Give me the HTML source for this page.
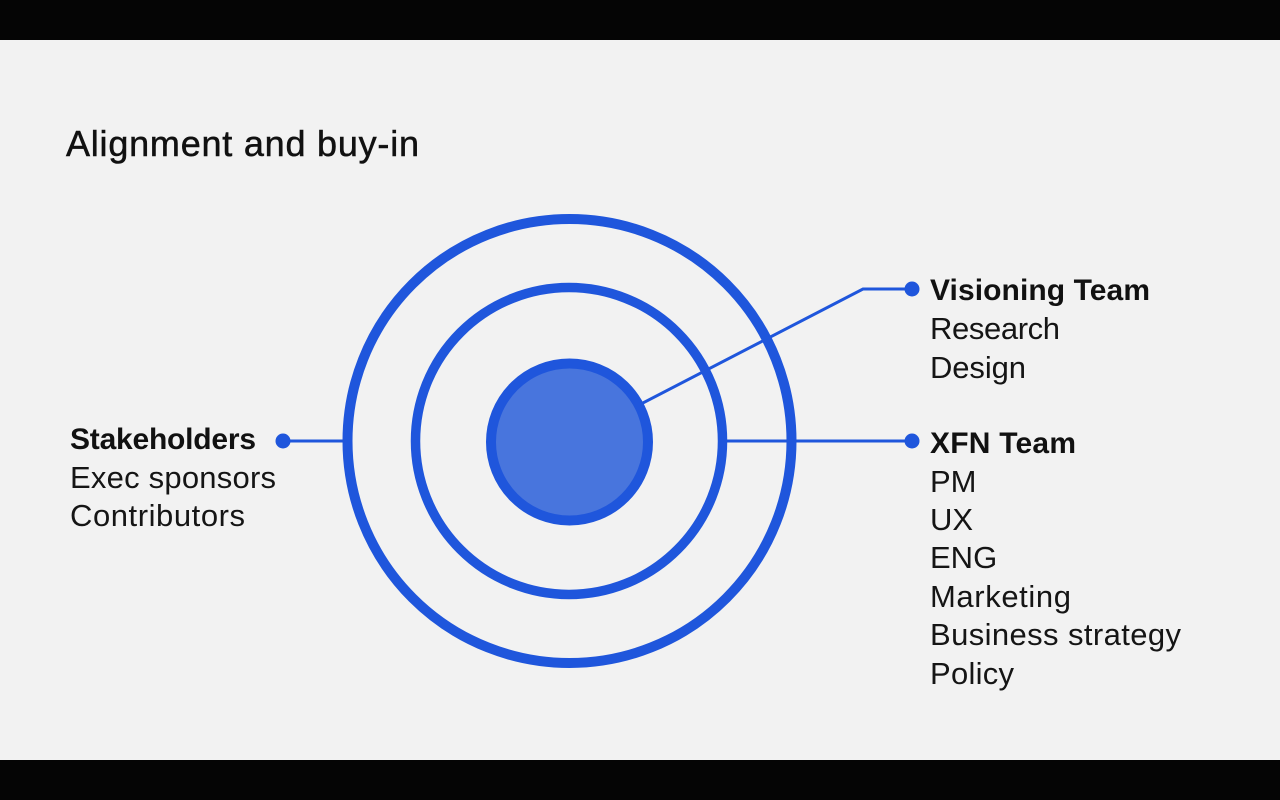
<!DOCTYPE html>
<html>
<head>
<meta charset="utf-8">
<style>
html,body{margin:0;padding:0;background:#050505;}
body{width:1280px;height:800px;overflow:hidden;position:relative;}
svg{position:absolute;left:0;top:0;}
text{font-family:"Liberation Sans",Arial,sans-serif;fill:#111;}
.b{font-weight:700;font-size:30px;}
.r{font-size:31px;fill:#151515;}
</style>
</head>
<body>
<svg width="1280" height="800" viewBox="0 0 1280 800" xmlns="http://www.w3.org/2000/svg">
  <rect x="0" y="0" width="1280" height="800" fill="#050505"/>
  <rect x="0" y="40" width="1280" height="720" fill="#f2f2f2"/>

  <text x="66" y="156" font-size="36" textLength="353" lengthAdjust="spacing" style="fill:#111;stroke:#111;stroke-width:0.5">Alignment and buy-in</text>

  <!-- connectors -->
  <g stroke="#1f56dc" stroke-width="3" fill="none">
    <line x1="283" y1="441" x2="346" y2="441"/>
    <line x1="723" y1="441" x2="912" y2="441"/>
    <polyline points="569.5,441 863,289 912,289"/>
  </g>
  <g fill="#1f56dc">
    <circle cx="283" cy="441" r="7.5"/>
    <circle cx="912" cy="289" r="7.5"/>
    <circle cx="912" cy="441" r="7.5"/>
  </g>

  <!-- rings -->
  <circle cx="569.5" cy="441" r="222" fill="none" stroke="#1f56dc" stroke-width="10"/>
  <circle cx="569" cy="441" r="153.5" fill="none" stroke="#1f56dc" stroke-width="9.5"/>
  <circle cx="569.5" cy="442" r="78.5" fill="#4875dd" stroke="#1f56dc" stroke-width="10"/>

  <!-- left labels -->
  <text class="b" x="70" y="449" textLength="186" lengthAdjust="spacing">Stakeholders</text>
  <text class="r" x="70" y="488" textLength="206" lengthAdjust="spacing">Exec sponsors</text>
  <text class="r" x="70" y="526" textLength="175" lengthAdjust="spacing">Contributors</text>

  <!-- right labels -->
  <text class="b" x="930" y="300" textLength="220" lengthAdjust="spacing">Visioning Team</text>
  <text class="r" x="930" y="339" textLength="130" lengthAdjust="spacing">Research</text>
  <text class="r" x="930" y="378" textLength="96" lengthAdjust="spacing">Design</text>

  <text class="b" x="930" y="453" textLength="146" lengthAdjust="spacing">XFN Team</text>
  <text class="r" x="930" y="492">PM</text>
  <text class="r" x="930" y="530">UX</text>
  <text class="r" x="930" y="568">ENG</text>
  <text class="r" x="930" y="607" textLength="141" lengthAdjust="spacing">Marketing</text>
  <text class="r" x="930" y="645" textLength="251" lengthAdjust="spacing">Business strategy</text>
  <text class="r" x="930" y="684" textLength="84" lengthAdjust="spacing">Policy</text>
</svg>
</body>
</html>
